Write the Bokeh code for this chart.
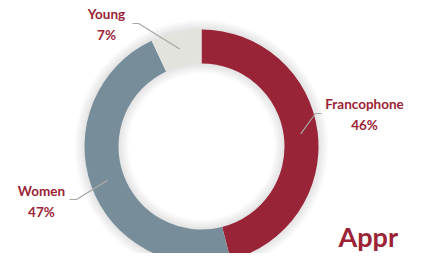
import math
from bokeh.plotting import figure
from bokeh.models import Range1d
from bokeh.core.properties import value
from bokeh.embed import file_html
from bokeh.resources import INLINE

categories = ["Francophone", "Women", "Young"]
shares = [46, 47, 7]
colors = ["#9A2437", "#778E9A", "#E3E3DE"]

W, H = 407, 253
TOP = 269  # data y = TOP - pixel row
p = figure(width=W, height=H, output_backend="svg", toolbar_location=None,
           x_range=Range1d(0, W), y_range=Range1d(TOP - H, TOP),
           min_border=0)
p.axis.visible = False
p.grid.visible = False
p.outline_line_color = None
p.background_fill_color = "white"

cx, cy = 201, TOP - 146
r_out, r_in = 117, 83

# soft shadow
for i in range(7):
    p.annulus(x=[cx], y=[cy], inner_radius=r_out - 1, outer_radius=r_out + 1 + i * 1.5,
              fill_color="#000000", fill_alpha=0.014, line_color=None)
    p.annulus(x=[cx], y=[cy], inner_radius=r_in - 1 - i * 1.5, outer_radius=r_in + 1,
              fill_color="#000000", fill_alpha=0.014, line_color=None)

total = sum(shares)
start = math.pi / 2
starts, ends, mids = [], [], []
for s in shares:
    a = s / total * 2 * math.pi
    starts.append(start)
    ends.append(start - a)
    mids.append(start - a / 2)
    start -= a

p.annular_wedge(x=cx, y=cy, inner_radius=r_in, outer_radius=r_out,
                start_angle=starts, end_angle=ends, direction="clock",
                fill_color=colors, line_color=None)

# labels with leader lines
label_xy = [(364, TOP - 114), (41, TOP - 201), (106, TOP - 24)]
elbows = [((321, TOP - 113), (315, TOP - 113)),
          ((69, TOP - 199), (76, TOP - 199)),
          ((132, TOP - 23), (138, TOP - 23))]
r_lead = 100
for cat, sh, m, (lx, ly), (e1, e2) in zip(categories, shares, mids, label_xy, elbows):
    px = cx + r_lead * math.cos(m)
    py = cy + r_lead * math.sin(m)
    p.line(x=[e1[0], e2[0], px], y=[e1[1], e2[1], py], line_color="#A8A8A8", line_width=1.2)
    p.text(x=[lx], y=[ly], text=[f"{cat}\n{sh}%"], text_align="center", text_baseline="middle",
           text_font=value("Lato"), text_font_style="bold", text_font_size="13.5px",
           text_color="#9B2335", text_line_height=1.3)

p.text(x=[338], y=[TOP - 236], text=["Appr"], text_align="left", text_baseline="alphabetic",
       text_font=value("Lato"), text_font_style="bold", text_font_size="27px",
       text_color="#9B2335")

open("out.html", "w").write(file_html(p, INLINE))
